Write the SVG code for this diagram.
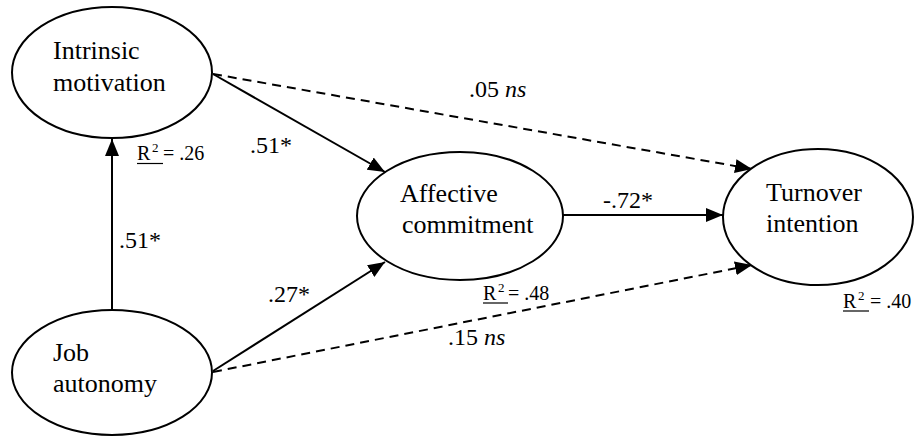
<svg xmlns="http://www.w3.org/2000/svg" width="916" height="436" viewBox="0 0 916 436">
<style>
.node{fill:#fff;stroke:#000;stroke-width:2}
.lbl{font-family:"Liberation Serif","Times New Roman",serif;font-size:26px;fill:#000}
.coef{font-family:"Liberation Serif","Times New Roman",serif;font-size:24px;fill:#000}
.r2{font-family:"Liberation Serif","Times New Roman",serif;font-size:20px;fill:#000}
.sup{font-size:13px}
.edge{stroke:#000;stroke-width:2;fill:none}
.dash{stroke-dasharray:9 6}
.ul{stroke:#000;stroke-width:1.2}
</style>
<defs>
<marker id="ah" markerUnits="userSpaceOnUse" markerWidth="18" markerHeight="14" refX="17" refY="7" orient="auto">
<path d="M0,0 L17,7 L0,14 Z" fill="#000"/>
</marker>
</defs>
<rect width="916" height="436" fill="#fff"/>
<g id="connectors">
<line class="edge" x1="112" y1="310" x2="112" y2="139" marker-end="url(#ah)"/>
<line class="edge" x1="213" y1="74" x2="385" y2="172" marker-end="url(#ah)"/>
<line class="edge dash" x1="213" y1="74" x2="752" y2="169" marker-end="url(#ah)"/>
<line class="edge" x1="213" y1="371" x2="385" y2="262" marker-end="url(#ah)"/>
<line class="edge dash" x1="213" y1="372" x2="752" y2="265" marker-end="url(#ah)"/>
<line class="edge" x1="563" y1="215" x2="723" y2="215" marker-end="url(#ah)"/>
<text class="coef" x="250" y="153">.51*</text>
<text class="coef" x="469" y="97">.05 <tspan font-style="italic">ns</tspan></text>
<text class="coef" x="119" y="248">.51*</text>
<text class="coef" x="268" y="302">.27*</text>
<text class="coef" x="603" y="208">-.72*</text>
<text class="coef" x="448" y="345">.15 <tspan font-style="italic">ns</tspan></text>
</g>
<g id="intrinsic">
<ellipse class="node" cx="112" cy="72.5" rx="100" ry="65.5"/>
<text class="lbl" x="53" y="59">Intrinsic</text>
<text class="lbl" x="53" y="91">motivation</text>
<text class="r2" x="137" y="160">R<tspan class="sup" x="152" y="152">2</tspan><tspan x="163" y="160">= .26</tspan></text>
<line class="ul" x1="137" y1="163.5" x2="163" y2="163.5"/>
</g>
<g id="jobautonomy">
<ellipse class="node" cx="112" cy="372.5" rx="100" ry="62.5"/>
<text class="lbl" x="53" y="361">Job</text>
<text class="lbl" x="53" y="392">autonomy</text>
</g>
<g id="affective">
<ellipse class="node" cx="460" cy="216" rx="103" ry="64"/>
<text class="lbl" x="400" y="202">Affective</text>
<text class="lbl" x="402" y="233">commitment</text>
<text class="r2" x="483" y="300">R<tspan class="sup" x="498" y="292">2</tspan><tspan x="508" y="300">= .48</tspan></text>
<line class="ul" x1="483" y1="303" x2="508" y2="303"/>
</g>
<g id="turnover">
<ellipse class="node" cx="818" cy="217" rx="95" ry="68"/>
<text class="lbl" x="766" y="201">Turnover</text>
<text class="lbl" x="766" y="232">intention</text>
<text class="r2" x="843" y="308">R<tspan class="sup" x="858" y="300">2</tspan><tspan x="870" y="308">= .40</tspan></text>
<line class="ul" x1="843" y1="311" x2="869" y2="311"/>
</g>
</svg>
